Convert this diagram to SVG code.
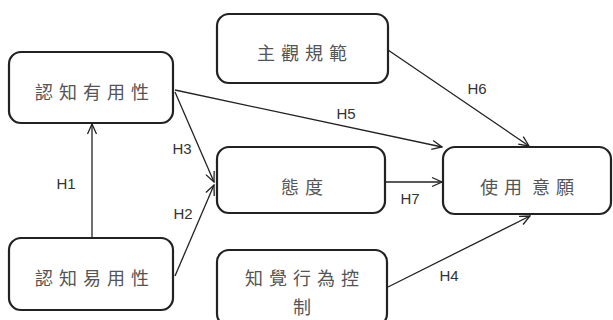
<svg xmlns="http://www.w3.org/2000/svg" width="613" height="320" viewBox="0 0 613 320">
<style>
.box{fill:#fff;stroke:#222;stroke-width:2.2}
.t{font-family:"Noto Sans CJK TC","Noto Sans CJK SC",sans-serif;font-size:18px;fill:#555;text-anchor:middle;letter-spacing:6px}
.h{font-family:"Liberation Sans",Arial,sans-serif;font-size:15px;fill:#333;text-anchor:middle}
.c{fill:none;stroke:#222;stroke-width:1.3;marker-end:url(#a)}
</style>
<defs>
<marker id="a" viewBox="0 0 12 12" refX="11" refY="6" markerWidth="12" markerHeight="12" markerUnits="userSpaceOnUse" orient="auto">
<path d="M1,1.5 L11,6 L1,10.5" fill="none" stroke="#222" stroke-width="1.3"/>
</marker>
</defs>
<rect width="613" height="320" fill="#fff"/>
<g id="connectors">
<line class="c" x1="92" y1="238" x2="92" y2="124"/>
<line class="c" x1="175" y1="92" x2="214" y2="182"/>
<line class="c" x1="175" y1="276" x2="214" y2="185"/>
<line class="c" x1="175" y1="90" x2="442" y2="147"/>
<line class="c" x1="388" y1="50" x2="529" y2="146"/>
<line class="c" x1="386" y1="182" x2="442" y2="182"/>
<line class="c" x1="388" y1="287" x2="530" y2="216"/>
<text class="h" x="66" y="189">H1</text>
<text class="h" x="182" y="154">H3</text>
<text class="h" x="183" y="219">H2</text>
<text class="h" x="346" y="119">H5</text>
<text class="h" x="477" y="94">H6</text>
<text class="h" x="410" y="204">H7</text>
<text class="h" x="449" y="281">H4</text>
</g>
<g id="n1"><rect class="box" x="9" y="52" width="164" height="71" rx="12"/><text class="t" x="95" y="99">認知有用性</text></g>
<g id="n2"><rect class="box" x="9" y="238" width="164" height="72" rx="12"/><text class="t" x="95" y="285">認知易用性</text></g>
<g id="n3"><rect class="box" x="217" y="14" width="171" height="69" rx="12"/><text class="t" x="305" y="60">主觀規範</text></g>
<g id="n4"><rect class="box" x="217" y="147" width="168" height="66" rx="12"/><text class="t" x="305" y="194">態度</text></g>
<g id="n5"><rect class="box" x="443" y="147" width="168" height="67" rx="12"/><text class="t" x="530" y="194">使用<tspan dx="4">意願</tspan></text></g>
<g id="n6"><rect class="box" x="217" y="250" width="170" height="76" rx="12"/><text class="t" x="305" y="285">知覺行為控</text><text class="t" x="305" y="314">制</text></g>
</svg>
